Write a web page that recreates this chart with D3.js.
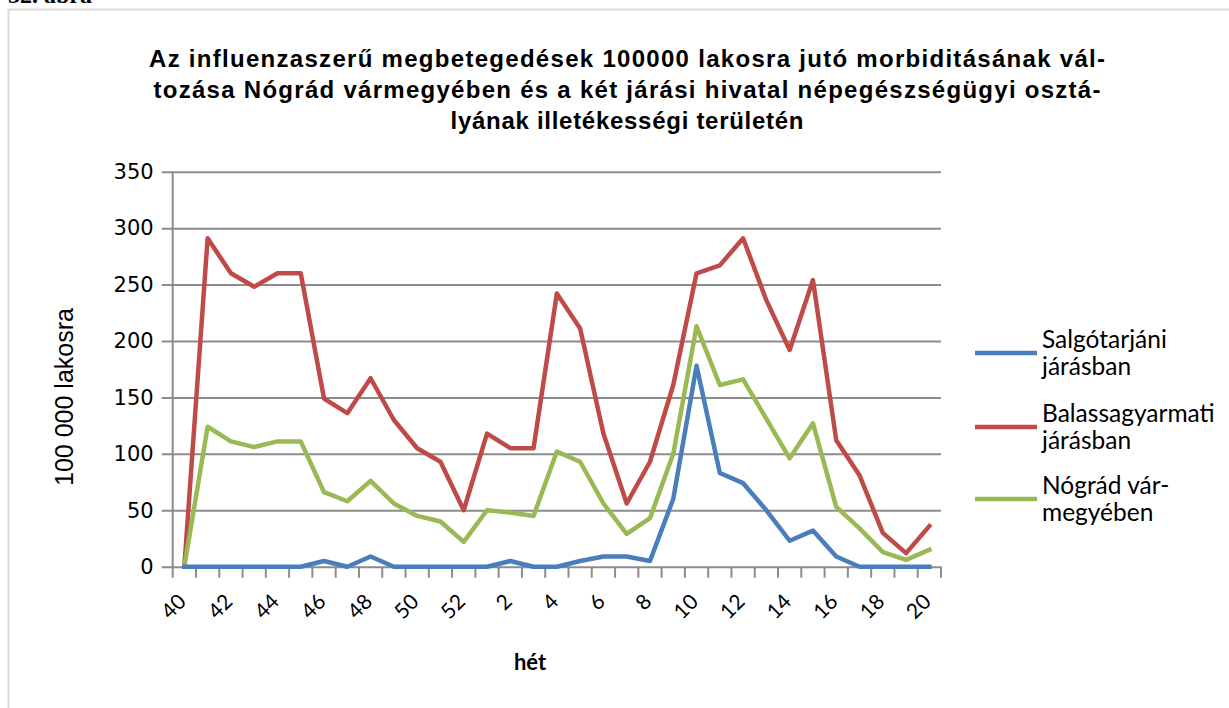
<!DOCTYPE html>
<html>
<head>
<meta charset="utf-8">
<script src="https://cdn.jsdelivr.net/npm/d3@7"></script>
<style>
  html, body { margin: 0; padding: 0; background: #ffffff; }
  svg { display: block; }
</style>
</head>
<body>
<div id="chart"></div>
<script>
// Weekly influenza-like illness morbidity per 100 000 inhabitants
const weeks = [40, 41, 42, 43, 44, 45, 46, 47, 48, 49, 50, 51, 52,
  1, 2, 3, 4, 5, 6, 7, 8, 9, 10, 11, 12, 13, 14, 15, 16, 17, 18, 19, 20];

const salgotarjan = [0, 0, 0, 0, 0, 0, 5, 0, 9, 0, 0, 0, 0,
  0, 5, 0, 0, 5, 9, 9, 5, 60, 178, 83, 74, 50, 23, 32, 9, 0, 0, 0, 0];

const balassagyarmat = [0, 291, 260, 248, 260, 260, 149, 136, 167, 130, 105, 93, 50,
  118, 105, 105, 242, 211, 118, 56, 93, 161, 260, 267, 291, 236, 192, 254, 112, 81, 30, 12, 36];

const nograd = [0, 124, 111, 106, 111, 111, 66, 58, 76, 56, 45, 40, 22,
  50, 48, 45, 102, 93, 56, 29, 43, 100, 213, 161, 166, 131, 96, 127, 53, 34, 13, 6, 15];

const yTicks = [0, 50, 100, 150, 200, 250, 300, 350];

const seriesNames = ["Salgótarjáni\njárásban", "Balassagyarmati\njárásban", "Nógrád vár-\nmegyében"];
const seriesColors = ["#4a7ebb", "#be4b48", "#98b954"];

const titleLines = [
  "Az influenzaszerű megbetegedések 100000 lakosra jutó morbiditásának vál-",
  "tozása Nógrád vármegyében és a két járási hivatal népegészségügyi osztá-",
  "lyának illetékességi területén"
];
// justified widths of the title lines
const titleWidths = [956, 947, 353];

const W = 1229, H = 708;
const plot = { left: 172.7, right: 941, top: 171.7, bottom: 566.7 };
const gridColor = "#8c8c8c";
const sans = "'Liberation Sans', Arimo, Arial, sans-serif";

const svg = d3.select("#chart").append("svg")
  .attr("width", W).attr("height", H);

// Figure caption above the chart frame
svg.append("text")
  .attr("x", 8).attr("y", 3)
  .attr("font-family", "'Liberation Serif', serif")
  .attr("font-weight", "bold")
  .attr("font-size", 24)
  .attr("fill", "#000")
  .text("32. ábra");

// Chart frame
svg.append("rect")
  .attr("x", 8.5).attr("y", 9.5)
  .attr("width", 1300).attr("height", 800)
  .attr("fill", "#fff")
  .attr("stroke", "#d9d9d9")
  .attr("stroke-width", 2);

// Title
const title = svg.append("text")
  .attr("font-family", sans)
  .attr("font-weight", "bold")
  .attr("font-size", 24)
  .attr("fill", "#000")
  .attr("text-anchor", "middle");
titleLines.forEach((t, i) => {
  title.append("tspan")
    .attr("x", 627).attr("y", 67 + i * 31)
    .attr("textLength", titleWidths[i])
    .attr("lengthAdjust", "spacing")
    .text(t);
});

const x = d3.scaleBand().domain(d3.range(weeks.length))
  .range([plot.left, plot.right]).paddingInner(0).paddingOuter(0);
const cx = i => x(i) + x.bandwidth() / 2;
const y = d3.scaleLinear().domain([0, 350]).range([plot.bottom, plot.top]);

// Horizontal gridlines with outer tick marks
const yAxis = d3.axisLeft(y).tickValues(yTicks)
  .tickSize(-(plot.right - plot.left)).tickSizeOuter(0).tickPadding(19)
  .tickFormat(d3.format("d"));
const yg = svg.append("g").attr("transform", `translate(${plot.left},0)`).call(yAxis);
yg.select(".domain").remove();
yg.selectAll(".tick line")
  .attr("x1", -11)
  .attr("stroke", gridColor).attr("stroke-width", 2);
yg.selectAll(".tick text")
  .attr("font-family", "'DejaVu Sans', sans-serif")
  .attr("font-size", 21)
  .attr("fill", "#000");

// Vertical axis line
svg.append("line")
  .attr("x1", plot.left).attr("x2", plot.left)
  .attr("y1", plot.top).attr("y2", plot.bottom + 11)
  .attr("stroke", gridColor).attr("stroke-width", 2);

// Category tick marks at band boundaries
const boundaries = d3.range(1, weeks.length + 1).map(i => plot.left + i * x.bandwidth());
svg.append("g").selectAll("line").data(boundaries).join("line")
  .attr("x1", d => d).attr("x2", d => d)
  .attr("y1", plot.bottom).attr("y2", plot.bottom + 11)
  .attr("stroke", gridColor).attr("stroke-width", 2);

// Category labels, every second week
svg.append("g").selectAll("text")
  .data(weeks.map((w, i) => ({ w, i })).filter(d => d.i % 2 === 0))
  .join("text")
  .attr("transform", d => `translate(${cx(d.i) + 3},603) rotate(-45)`)
  .attr("text-anchor", "end")
  .attr("font-family", "Lato, sans-serif")
  .attr("font-size", 21)
  .attr("fill", "#000")
  .text(d => d.w);

// Axis titles
svg.append("text")
  .attr("transform", "translate(73,397) rotate(-90)")
  .attr("text-anchor", "middle")
  .attr("font-family", sans)
  .attr("font-size", 25)
  .attr("fill", "#000")
  .text("100 000 lakosra");

svg.append("text")
  .attr("x", 530).attr("y", 670)
  .attr("text-anchor", "middle")
  .attr("font-family", "Lato, sans-serif")
  .attr("font-weight", "bold")
  .attr("font-size", 22)
  .attr("fill", "#000")
  .text("hét");

// Series lines
const allSeries = [salgotarjan, balassagyarmat, nograd];
const line = d3.line().x((d, i) => cx(i)).y(d => y(d));
[1, 2, 0].forEach(k => {
  svg.append("path")
    .datum(allSeries[k])
    .attr("d", line)
    .attr("fill", "none")
    .attr("stroke", seriesColors[k])
    .attr("stroke-width", 4.5)
    .attr("stroke-linejoin", "round")
    .attr("stroke-linecap", "square");
});

// Legend
const legendY = [353, 427, 499];
const lg = svg.append("g");
seriesNames.forEach((name, k) => {
  lg.append("line")
    .attr("x1", 975).attr("x2", 1037)
    .attr("y1", legendY[k]).attr("y2", legendY[k])
    .attr("stroke", seriesColors[k]).attr("stroke-width", 4.5);
  const t = lg.append("text")
    .attr("font-family", "Lato, sans-serif")
    .attr("font-size", 24.5)
    .attr("fill", "#000");
  name.split("\n").forEach((part, j) => {
    t.append("tspan").attr("x", 1042).attr("y", legendY[k] - 5 + j * 27).text(part);
  });
});
</script>
</body>
</html>
